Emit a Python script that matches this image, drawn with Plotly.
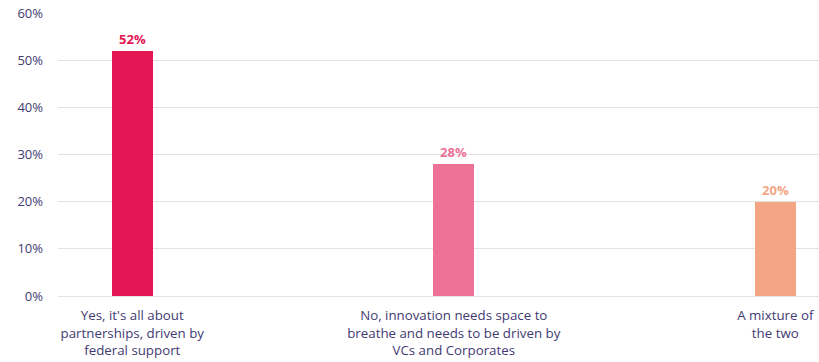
import plotly.graph_objects as go

categories = [
    "Yes, it's all about<br>partnerships, driven by<br>federal support",
    "No, innovation needs space to<br>breathe and needs to be driven by<br>VCs and Corporates",
    "A mixture of<br>the two",
]
values = [52, 28, 20]
bar_colors = ["#e31552", "#ee7298", "#f4a684"]
y_ticks = [0, 10, 20, 30, 40, 50, 60]

text_color = "#3f3b72"
font_family = "'Open Sans', sans-serif"

x_pos = list(range(len(categories)))

fig = go.Figure(
    go.Bar(
        x=x_pos,
        y=values,
        width=0.128,
        marker=dict(color=bar_colors, line=dict(width=0)),
        text=[f"{v}%" for v in values],
        textposition="outside",
        cliponaxis=False,
        textfont=dict(family=font_family, size=13, color=bar_colors, weight="bold"),
    )
)

fig.update_layout(
    width=819,
    height=362,
    margin=dict(l=58, r=0, t=13, b=66),
    paper_bgcolor="white",
    plot_bgcolor="white",
    showlegend=False,
    font=dict(family=font_family, size=13, color=text_color),
    bargap=0,
)

fig.update_xaxes(
    range=[-0.231, 2.136],
    tickvals=x_pos,
    ticktext=categories,
    showgrid=False,
    showline=False,
    zeroline=False,
    ticks="",
    automargin=False,
    ticklabelstandoff=10,
    tickfont=dict(size=13.3, color=text_color),
)

fig.update_yaxes(
    range=[0, 60],
    tickvals=y_ticks,
    ticktext=[f"{t}%" for t in y_ticks],
    showgrid=True,
    gridcolor="#e2e2e2",
    gridwidth=1,
    zeroline=True,
    zerolinecolor="#e2e2e2",
    zerolinewidth=1,
    showline=False,
    ticks="",
    automargin=False,
    ticklabelstandoff=14,
    tickfont=dict(size=13, color=text_color),
)

fig.write_html("out.html")
